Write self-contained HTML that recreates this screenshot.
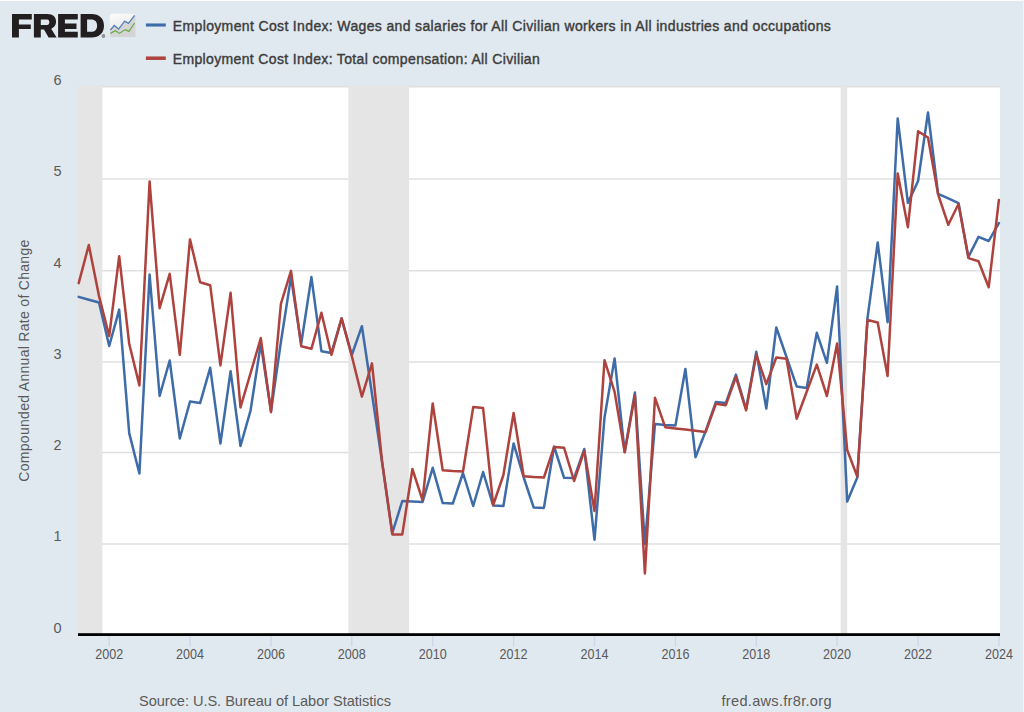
<!DOCTYPE html>
<html><head><meta charset="utf-8"><style>
html,body{margin:0;padding:0;}
body{width:1024px;height:712px;overflow:hidden;background:#e1e9f0;font-family:"Liberation Sans",sans-serif;position:relative;}
svg{position:absolute;left:0;top:0;}
.t{font-family:"Liberation Sans",sans-serif;}
</style></head><body>
<svg width="1024" height="712" viewBox="0 0 1024 712">
<rect x="0" y="0" width="1024" height="712" fill="#e1e9f0"/>
<rect x="78" y="86" width="922" height="548" fill="#ffffff"/>
<g stroke="#e0e0e0" stroke-width="1.6"><line x1="78" x2="1000" y1="544.0" y2="544.0"/><line x1="78" x2="1000" y1="452.5" y2="452.5"/><line x1="78" x2="1000" y1="362.0" y2="362.0"/><line x1="78" x2="1000" y1="270.7" y2="270.7"/><line x1="78" x2="1000" y1="179.0" y2="179.0"/><line x1="78" x2="1000" y1="86.6" y2="86.6"/></g>
<g fill="#e5e5e5"><rect x="78.0" y="86" width="24.4" height="548"/><rect x="348.4" y="86" width="60.7" height="548"/><rect x="840.6" y="86" width="6.6" height="548"/></g>
<g stroke="#ccd6eb" stroke-width="1.4"><line x1="109.2" x2="109.2" y1="636" y2="646.5"/><line x1="190.0" x2="190.0" y1="636" y2="646.5"/><line x1="271.0" x2="271.0" y1="636" y2="646.5"/><line x1="351.8" x2="351.8" y1="636" y2="646.5"/><line x1="432.7" x2="432.7" y1="636" y2="646.5"/><line x1="513.6" x2="513.6" y1="636" y2="646.5"/><line x1="594.5" x2="594.5" y1="636" y2="646.5"/><line x1="675.4" x2="675.4" y1="636" y2="646.5"/><line x1="756.3" x2="756.3" y1="636" y2="646.5"/><line x1="837.1" x2="837.1" y1="636" y2="646.5"/><line x1="918.1" x2="918.1" y1="636" y2="646.5"/><line x1="998.9" x2="998.9" y1="636" y2="646.5"/></g>
<polyline fill="none" stroke="#3e6ca9" stroke-width="2.5" stroke-linejoin="round" stroke-linecap="round" points="78.7,296.9 88.8,299.7 99.0,302.5 109.2,346.0 119.2,309.6 129.2,433.1 139.4,473.5 149.6,274.6 159.6,396.0 169.7,360.5 179.8,438.5 190.0,401.5 200.1,403.1 210.2,367.8 220.4,443.5 230.6,371.2 240.5,446.0 250.6,410.3 260.8,343.8 271.0,411.0 280.9,342.0 291.0,277.1 301.2,343.8 311.4,277.1 321.4,351.2 331.4,353.1 341.6,318.4 351.8,355.0 361.9,326.2 372.0,394.0 382.1,462.0 392.3,533.0 402.3,501.0 412.4,501.5 422.6,501.9 432.7,467.8 442.7,503.1 452.8,503.5 463.0,473.0 473.2,506.0 483.1,472.0 493.2,505.6 503.4,506.0 513.6,443.4 523.7,477.5 533.7,507.5 543.9,507.9 554.1,446.5 564.1,477.8 574.1,478.1 584.3,449.0 594.5,539.8 604.5,417.5 614.6,358.4 624.7,452.0 634.9,392.5 644.9,544.0 655.0,424.0 665.2,425.0 675.4,425.6 685.4,369.0 695.5,457.2 705.7,431.0 715.9,401.9 725.8,403.1 735.9,374.6 746.1,409.0 756.3,351.8 766.3,408.5 776.3,327.5 786.5,357.0 796.7,386.4 806.7,387.9 816.8,332.8 826.9,362.9 837.1,286.5 847.2,501.6 857.3,477.5 867.5,318.1 877.7,242.5 887.6,322.2 897.7,118.4 907.9,202.9 918.1,181.0 928.0,112.5 938.1,193.8 948.3,198.4 958.5,203.1 968.4,257.0 978.5,236.9 988.7,241.0 998.9,223.1"/>
<polyline fill="none" stroke="#ae423d" stroke-width="2.5" stroke-linejoin="round" stroke-linecap="round" points="78.7,283.1 88.8,245.0 99.0,296.0 109.2,336.0 119.2,256.2 129.2,343.8 139.4,385.4 149.6,181.6 159.6,308.2 169.7,273.8 179.8,354.8 190.0,239.4 200.1,282.2 210.2,285.2 220.4,365.4 230.6,292.8 240.5,407.4 250.6,373.0 260.8,338.1 271.0,412.2 280.9,303.8 291.0,270.9 301.2,346.2 311.4,348.8 321.4,312.8 331.4,354.8 341.6,318.4 351.8,356.0 361.9,396.6 372.0,363.4 382.1,462.0 392.3,534.4 402.3,534.4 412.4,469.0 422.6,500.4 432.7,403.4 442.7,470.2 452.8,471.0 463.0,471.5 473.2,407.1 483.1,408.1 493.2,505.0 503.4,475.0 513.6,413.0 523.7,476.2 533.7,477.0 543.9,477.5 554.1,446.9 564.1,447.8 574.1,481.0 584.3,450.9 594.5,511.0 604.5,360.2 614.6,391.9 624.7,452.2 634.9,395.2 644.9,573.5 655.0,397.8 665.2,427.2 675.4,428.4 685.4,429.6 695.5,430.8 705.7,431.9 715.9,403.8 725.8,405.2 735.9,377.0 746.1,410.4 756.3,354.6 766.3,384.1 776.3,357.5 786.5,358.8 796.7,418.8 806.7,391.7 816.8,364.6 826.9,396.0 837.1,343.4 847.2,450.0 857.3,476.6 867.5,320.0 877.7,322.5 887.6,376.0 897.7,173.4 907.9,227.2 918.1,131.2 928.0,137.5 938.1,194.4 948.3,224.8 958.5,204.0 968.4,258.1 978.5,261.2 988.7,287.2 998.9,200.0"/>
<rect x="78" y="633.2" width="922" height="2.8" fill="#000"/>
<g class="t" fill="#5a5a5a" font-size="14.2"><text x="95.2" y="658.6" textLength="28" lengthAdjust="spacingAndGlyphs">2002</text><text x="176.0" y="658.6" textLength="28" lengthAdjust="spacingAndGlyphs">2004</text><text x="257.0" y="658.6" textLength="28" lengthAdjust="spacingAndGlyphs">2006</text><text x="337.8" y="658.6" textLength="28" lengthAdjust="spacingAndGlyphs">2008</text><text x="418.7" y="658.6" textLength="28" lengthAdjust="spacingAndGlyphs">2010</text><text x="499.6" y="658.6" textLength="28" lengthAdjust="spacingAndGlyphs">2012</text><text x="580.5" y="658.6" textLength="28" lengthAdjust="spacingAndGlyphs">2014</text><text x="661.4" y="658.6" textLength="28" lengthAdjust="spacingAndGlyphs">2016</text><text x="742.3" y="658.6" textLength="28" lengthAdjust="spacingAndGlyphs">2018</text><text x="823.1" y="658.6" textLength="28" lengthAdjust="spacingAndGlyphs">2020</text><text x="904.1" y="658.6" textLength="28" lengthAdjust="spacingAndGlyphs">2022</text><text x="984.9" y="658.6" textLength="28" lengthAdjust="spacingAndGlyphs">2024</text></g>
<g class="t" fill="#5a5a5a" font-size="14.5" text-anchor="end"><text x="61.5" y="632.6">0</text><text x="61.5" y="541.3">1</text><text x="61.5" y="450.0">2</text><text x="61.5" y="358.8">3</text><text x="61.5" y="267.5">4</text><text x="61.5" y="176.2">5</text><text x="61.5" y="84.9">6</text></g>
<text class="t" fill="#5a5a5a" font-size="14" transform="translate(29.3,481.7) rotate(-90)" textLength="242" lengthAdjust="spacing">Compounded Annual Rate of Change</text>
<g stroke-width="3.1" stroke-linecap="butt">
<line x1="145.9" x2="165.8" y1="25" y2="25" stroke="#3e6ca9"/>
<line x1="145.9" x2="165.8" y1="58.2" y2="58.2" stroke-width="3.5" stroke="#ae423d"/>
</g>
<g class="t" fill="#3c3c3c" font-size="14" stroke="#3c3c3c" stroke-width="0.4">
<text x="172.8" y="30.8" textLength="658" lengthAdjust="spacing">Employment Cost Index: Wages and salaries for All Civilian workers in All industries and occupations</text>
<text x="172.8" y="63.9" textLength="367" lengthAdjust="spacing">Employment Cost Index: Total compensation: All Civilian</text>
</g>
<g class="t" fill="#5a5a5a" font-size="14.6">
<text x="139" y="706" textLength="252" lengthAdjust="spacing">Source: U.S. Bureau of Labor Statistics</text>
<text x="721.5" y="706" textLength="110" lengthAdjust="spacing">fred.aws.fr8r.org</text>
</g>
<g fill="#231f20">
<path d="M12,13.9 H31.8 V19.6 H18.9 V24.6 H30.8 V28.9 H18.9 V37.4 H12 Z"/>
<path fill-rule="evenodd" d="M33.9,13.9 H47.5 C53,13.9 56.1,16.8 56.1,21.6 C56.1,25.2 54.2,27.7 51.2,28.8 L56.6,37.4 H48.6 L44,29.6 H40.8 V37.4 H33.9 Z M40.8,19.6 V24.9 H47 C48.6,24.9 49.3,23.9 49.3,22.25 C49.3,20.6 48.6,19.6 47,19.6 Z"/>
<path d="M58.1,13.9 H77.8 V19.6 H64.9 V23.6 H76.5 V28.9 H64.9 V31.75 H77.8 V37.4 H58.1 Z"/>
<path fill-rule="evenodd" d="M80.6,13.9 H91.5 C99.2,13.9 104,18.4 104,25.65 C104,32.9 99.2,37.4 91.5,37.4 H80.6 Z M87.1,19.6 V31.75 H91 C95,31.75 97.1,29.5 97.1,25.65 C97.1,21.8 95,19.6 91,19.6 Z"/>
</g>
<circle cx="103.4" cy="36" r="1.9" fill="#909090"/>
<defs><linearGradient id="ig" x1="0" y1="0" x2="0.3" y2="1"><stop offset="0" stop-color="#fdfdfd"/><stop offset="1" stop-color="#e2e2e2"/></linearGradient></defs>
<rect x="109.8" y="13.8" width="25.7" height="23.2" rx="2.6" fill="url(#ig)"/>
<path d="M110.3,30 L114.3,25.5 L118.6,29.1 L124.7,21.2 L128.5,23.3 L134.6,15.4 L135.5,15.4 L135.5,37 L110.3,37 Z" fill="#d3d3d3" opacity="0.9"/>
<polyline points="110.3,30 114.3,25.5 118.6,29.1 124.7,21.2 128.5,23.3 134.6,15.4" fill="none" stroke="#5580b8" stroke-width="1.3"/>
<polyline points="110.3,33.4 115.4,30.7 119.5,33.4 125.1,29.6 128.9,31.4 134.6,23" fill="none" stroke="#6aa848" stroke-width="1.2"/>

<rect x="0" y="0" width="1024" height="1" fill="#fbfcfd"/>
<rect x="1023" y="0" width="1" height="712" fill="#f3f4f8"/>
</svg>
</body></html>
